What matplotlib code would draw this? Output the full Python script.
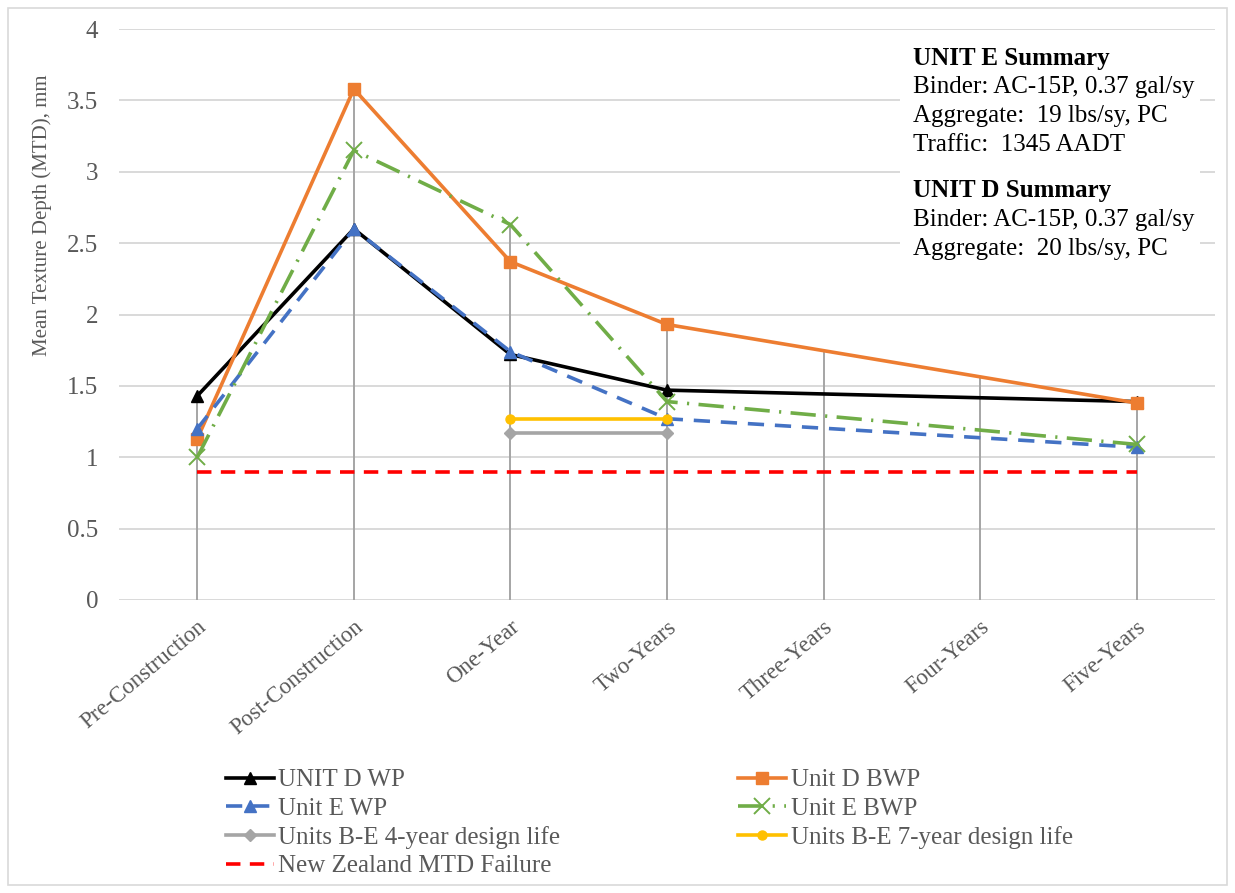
import numpy as np
import matplotlib
matplotlib.use('Agg')
import matplotlib.pyplot as plt
from matplotlib.patches import Rectangle

categories = ['Pre-Construction', 'Post-Construction', 'One-Year', 'Two-Years',
              'Three-Years', 'Four-Years', 'Five-Years']

# NaN = no measurement (line is drawn across the gap)
unit_d_wp = [1.43, 2.60, 1.72, 1.47, np.nan, np.nan, 1.39]
unit_d_bwp = [1.13, 3.58, 2.37, 1.93, np.nan, np.nan, 1.38]
unit_e_wp = [1.20, 2.60, 1.74, 1.27, np.nan, np.nan, 1.07]
unit_e_bwp = [1.00, 3.15, 2.63, 1.39, np.nan, np.nan, 1.09]
life_4yr = [np.nan, np.nan, 1.17, 1.17, np.nan, np.nan, np.nan]
life_7yr = [np.nan, np.nan, 1.27, 1.27, np.nan, np.nan, np.nan]
nz_failure = [0.9, 0.9, 0.9, 0.9, 0.9, 0.9, 0.9]

summary_e = ['UNIT E Summary', 'Binder: AC-15P, 0.37 gal/sy',
             'Aggregate:  19 lbs/sy, PC', 'Traffic:  1345 AADT']
summary_d = ['UNIT D Summary', 'Binder: AC-15P, 0.37 gal/sy',
             'Aggregate:  20 lbs/sy, PC']

plt.rcParams['font.family'] = ['Liberation Serif', 'DejaVu Serif']
GREY_TXT = '#595959'
W, H = 1235, 893

fig = plt.figure(figsize=(W / 100, H / 100), dpi=100)
ax = fig.add_axes([119 / W, 1 - 600 / H, (1215 - 119) / W, (600 - 29) / H])

x = np.arange(len(categories))


def valid(vals):
    v = np.array(vals, dtype=float)
    m = ~np.isnan(v)
    return x[m], v[m]


series = [
    (unit_d_wp, dict(color='black', lw=2.6, marker='^', ms=9, label='UNIT D WP')),
    (unit_d_bwp, dict(color='#ed7d31', lw=2.6, marker='s', ms=8.5, label='Unit D BWP')),
    (unit_e_wp, dict(color='#4472c4', lw=2.6, marker='^', ms=9, dashes=(4.5, 3),
                     label='Unit E WP')),
    (unit_e_bwp, dict(color='#70ad47', lw=2.6, marker='x', ms=11, mew=1.4,
                      dashes=(7, 2.6, 0.6, 2.6), label='Unit E BWP')),
    (life_4yr, dict(color='#a5a5a5', lw=2.6, marker='D', ms=6,
                    label='Units B-E 4-year design life')),
    (life_7yr, dict(color='#ffc000', lw=2.6, marker='o', ms=6.5,
                    label='Units B-E 7-year design life')),
    (nz_failure, dict(color='#ff0000', lw=2.6, dashes=(4, 2.6), marker=None,
                      label='New Zealand MTD Failure')),
]

# drop lines: from the highest series value at each category down to 0
tops = np.zeros(len(x))
for vals, _ in series:
    xs, vs = valid(vals)
    inside = (x >= xs.min()) & (x <= xs.max())
    tops[inside] = np.maximum(tops[inside], np.interp(x[inside], xs, vs))
ax.vlines(x, 0, tops, color='#a5a5a5', lw=1.4, zorder=2)

handles = {}
for vals, kw in series:
    xs, vs = valid(vals)
    h, = ax.plot(xs, vs, zorder=3, **kw)
    handles[kw['label']] = h

ax.set_xlim(-0.5, len(categories) - 0.5)
ax.set_ylim(0, 4)
ax.set_yticks(np.arange(0, 4.01, 0.5))
ax.set_yticklabels(['0', '0.5', '1', '1.5', '2', '2.5', '3', '3.5', '4'])
ax.grid(axis='y', color='#d9d9d9', lw=1.4, zorder=0)
ax.set_axisbelow(True)
for s in ax.spines.values():
    s.set_visible(False)
ax.set_xticks(x)
ax.set_xticklabels(categories, rotation=40, ha='right', va='top',
                   rotation_mode='anchor')
ax.tick_params(axis='both', length=0, colors=GREY_TXT, labelsize=18)
ax.tick_params(axis='x', labelsize=16.5, pad=12)
ax.tick_params(axis='y', pad=15)
ax.set_ylabel('Mean Texture Depth (MTD), mm', color=GREY_TXT, fontsize=15)
ax.yaxis.set_label_coords(-0.0615, (600 - 215) / (600 - 29))

# summary box
box_l, box_t, box_r, box_b = 900, 40, 1200, 265
ax.add_patch(Rectangle(((box_l - 119) / (1215 - 119), (600 - box_b) / (600 - 29)),
                       (box_r - box_l) / (1215 - 119), (box_b - box_t) / (600 - 29),
                       transform=ax.transAxes, facecolor='white', edgecolor='none',
                       zorder=1))
tx = 913 / W
y0 = 58
for i, line in enumerate(summary_e):
    fig.text(tx, 1 - (y0 + i * 29) / H, line, fontsize=18, va='center',
             fontweight='bold' if i == 0 else 'normal', color='black')
y1 = 191
for i, line in enumerate(summary_d):
    fig.text(tx, 1 - (y1 + i * 29) / H, line, fontsize=18, va='center',
             fontweight='bold' if i == 0 else 'normal', color='black')

order = ['UNIT D WP', 'Unit E WP', 'Units B-E 4-year design life', 'New Zealand MTD Failure',
         'Unit D BWP', 'Unit E BWP', 'Units B-E 7-year design life']
leg = fig.legend([handles[k] for k in order], order, ncol=2, loc='upper left',
                 bbox_to_anchor=(226 / W, 1 - 769 / H), frameon=False, fontsize=18,
                 handlelength=1.9, handletextpad=0.2, columnspacing=7.1,
                 labelspacing=0.24, borderaxespad=0, borderpad=0)
for t in leg.get_texts():
    t.set_color(GREY_TXT)

# chart area border
fig.add_artist(Rectangle((8 / W, 8 / H), (W - 16) / W, (H - 16) / H,
                         transform=fig.transFigure, fill=False,
                         edgecolor='#d9d9d9', lw=1.2))

fig.savefig('out.png', dpi=100, facecolor='white')
